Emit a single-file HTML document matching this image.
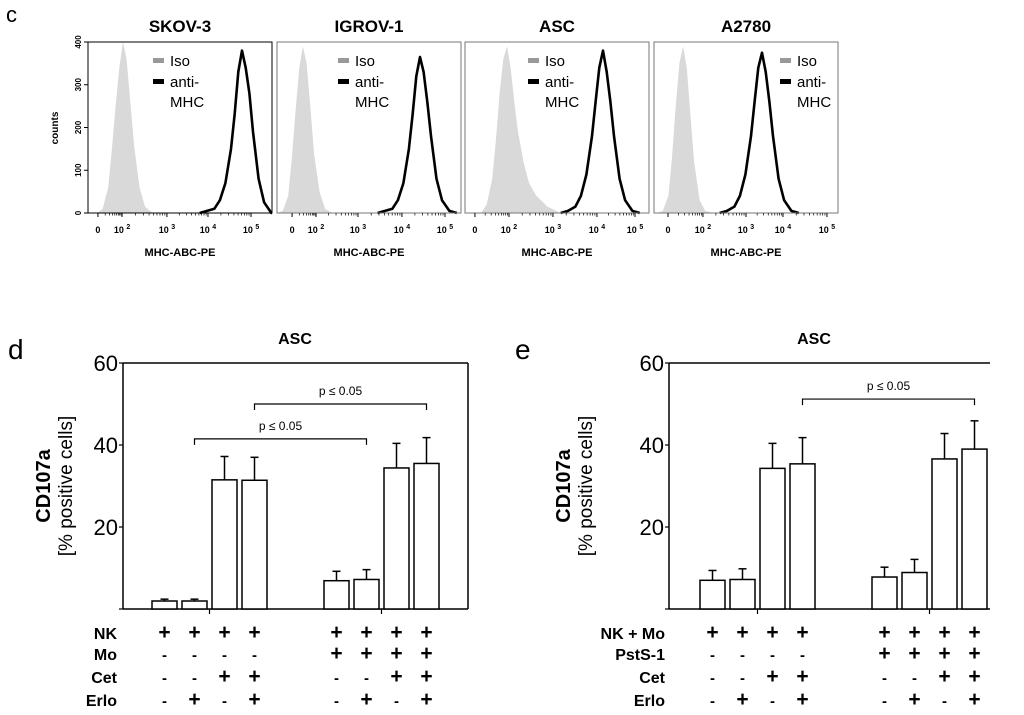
<!DOCTYPE html>
<html><head><meta charset="utf-8"><style>
html,body{margin:0;padding:0;background:#fff;}
svg{display:block;font-family:"Liberation Sans",Arial,sans-serif;}
</style></head><body>
<svg id="fig" width="1024" height="715" viewBox="0 0 1024 715">
<text x="6" y="22" font-size="22">c</text>
<text x="8" y="359" font-size="28">d</text>
<text x="515" y="359" font-size="28">e</text>
<g id="hist"></g>
<g id="chartD"></g>
<g id="chartE"></g>
</svg>
<script>
// ---------- Histogram data (panel c) ----------
const cellLines = ["SKOV-3","IGROV-1","ASC","A2780"];
const yTicksCounts = [0,100,200,300,400];
const isoOffsets = [-140,-110,-80,-60,-40,-20,0,20,40,60,90,120,160,220,290];
const isoPeak = [190,141,228,158];
const isoCounts1 = [0,10,60,150,250,340,400,360,260,160,60,15,0,0,0];
const isoCounts2 = [0,5,40,130,240,340,390,350,250,140,50,10,0,0,0];
const isoCounts3 = [0,20,80,170,280,360,390,340,260,190,120,70,40,15,0];
const isoCounts4 = [0,5,40,130,250,350,390,340,230,120,30,5,0,0,0];
const antiOffsets = [-230,-190,-150,-120,-90,-60,-40,-20,0,20,40,60,90,120,160,200];
const antiPeak = [837,777,750,587];
const antiCounts1 = [0,5,10,30,70,150,230,330,380,340,280,190,80,25,0,0];
const antiCounts2 = [0,5,10,30,70,150,230,320,365,330,260,180,80,30,5,0];
const antiCounts3 = [0,5,15,40,90,180,260,340,380,330,260,180,80,30,5,0];
const antiCounts4 = [0,5,15,40,90,180,260,340,375,330,260,180,80,30,5,0];
const decadeExp = ["","2","3","4","5"];
const decadeCh1 = [54,185,429,652,886];
const decadeCh2 = [82,212,440,679,913];
const decadeCh3 = [54,239,478,717,924];
const decadeCh4 = [76,266,500,701,940];

// ---------- Bar data (panels d, e) ----------
const yTicksBar = [20,40,60];
const dValues = [1.95,1.95,31.5,31.4,6.9,7.2,34.4,35.5];
const dErrTop = [2.4,2.4,37.2,37.0,9.2,9.6,40.4,41.8];
const eValues = [7.0,7.2,34.3,35.4,7.8,8.9,36.6,39.0];
const eErrTop = [9.4,9.8,40.4,41.8,10.2,12.1,42.8,45.9];
const dRowLabels = ["NK","Mo","Cet","Erlo"];
const dSigns = [["+","+","+","+","+","+","+","+"],["-","-","-","-","+","+","+","+"],["-","-","+","+","-","-","+","+"],["-","+","-","+","-","+","-","+"]];
const eRowLabels = ["NK + Mo","PstS-1","Cet","Erlo"];
const eSigns = [["+","+","+","+","+","+","+","+"],["-","-","-","-","+","+","+","+"],["-","-","+","+","-","-","+","+"],["-","+","-","+","-","+","-","+"]];
const dBrackets = [[1,5,41.5,"p ≤ 0.05"],[3,7,50,"p ≤ 0.05"]];
const eBrackets = [[3,7,51.2,"p ≤ 0.05"]];

const NS="http://www.w3.org/2000/svg";
function mk(tag,attrs,parent,txt){const e=document.createElementNS(NS,tag);for(const k in attrs)e.setAttribute(k,attrs[k]);if(txt!==undefined)e.textContent=txt;parent.appendChild(e);return e;}

// ---------- draw histograms ----------
const hist=document.getElementById('hist');
const panelLeft=[88,277,465,654], panelW=184, hTop=42, hBase=213;
const isoSets=[isoCounts1,isoCounts2,isoCounts3,isoCounts4];
const antiSets=[antiCounts1,antiCounts2,antiCounts3,antiCounts4];
const decSets=[decadeCh1,decadeCh2,decadeCh3,decadeCh4];
const legOff=[65,61,63,126];
function hy(c){return hBase-(c/400)*(hBase-hTop);}
for(let p=0;p<4;p++){
  const L=panelLeft[p];
  const hx=ch=>L+Math.max(0,Math.min(1000,ch))/1000*panelW;
  const g=mk('g',{},hist);
  
  
  const t=mk('text',{x:L+panelW/2,y:32,'font-size':17,'font-weight':'bold','text-anchor':'middle'},g,cellLines[p]);
  
  
  let d='M'+hx(isoPeak[p]+isoOffsets[0])+','+hBase;
  isoOffsets.forEach((o,i)=>{d+=' L'+hx(isoPeak[p]+o).toFixed(1)+','+hy(isoSets[p][i]).toFixed(1);});
  d+=' L'+hx(isoPeak[p]+isoOffsets[isoOffsets.length-1])+','+hBase+' Z';
  const iso=mk('path',{d:d,fill:'#d9d9d9',stroke:'none'},g);
  
  
  let d2='';
  antiOffsets.forEach((o,i)=>{d2+=(i?' L':'M')+hx(antiPeak[p]+o).toFixed(1)+','+hy(antiSets[p][i]).toFixed(1);});
  const an=mk('path',{d:d2,fill:'none',stroke:'#000','stroke-width':2.6,'stroke-linejoin':'round'},g);
  
  
  const box=mk('rect',{x:L,y:hTop,width:panelW,height:hBase-hTop,fill:'none',stroke:(p==0?'#000':'#777'),'stroke-width':1},g);
  
  
  decSets[p].forEach((c,i)=>{
    mk('line',{x1:hx(c),x2:hx(c),y1:hBase,y2:hBase+4,stroke:'#000','stroke-width':1},g);
    const tl=mk('text',{x:hx(c),y:233,'font-size':9,'font-weight':'bold','text-anchor':'middle'},g);
    
    
    if(i==0){tl.textContent='0';}
    else{mk('tspan',{},tl,'10 ');mk('tspan',{dy:-4,'font-size':7},tl,decadeExp[i]);}
    if(i>0){const prev=decSets[p][i-1];for(let k=1;k<9;k++){const mc=prev+(c-prev)*Math.log10(k+1);mk('line',{x1:hx(mc),x2:hx(mc),y1:hBase,y2:hBase+2.5,stroke:'#000','stroke-width':0.7},g);}}
  });
  const xt=mk('text',{x:L+panelW/2,y:256,'font-size':11,'font-weight':'bold','text-anchor':'middle'},g,'MHC-ABC-PE');
  
  
  const lx=L+legOff[p];
  mk('rect',{x:lx,y:58,width:11,height:5,fill:'#999'},g);
  mk('rect',{x:lx,y:79,width:11,height:5,fill:'#000'},g);
  const l1=mk('text',{x:lx+17,y:66,'font-size':15},g,'Iso');
  
  
  const l2=mk('text',{x:lx+17,y:87,'font-size':15},g,'anti-');
  
  
  mk('text',{x:lx+17,y:107,'font-size':15},g,'MHC');
  if(p==0){
    yTicksCounts.forEach(v=>{
      mk('line',{x1:L-4,x2:L,y1:hy(v),y2:hy(v),stroke:'#000'},g);
      const yl=mk('text',{x:0,y:0,'font-size':8,'font-weight':'bold','text-anchor':'middle',transform:`translate(${L-7},${hy(v)}) rotate(-90)`},g,String(v));
      
      
    });
    const yt=mk('text',{x:0,y:0,'font-size':10,'font-weight':'bold','text-anchor':'middle',transform:'translate(58,128) rotate(-90)'},g,'counts');
    
    
  }
}

// ---------- bar charts ----------
function barChart(gid,cfg,values,errTop,rowLabels,signs,brackets){
  const g=document.getElementById(gid);
  const y0=609,yTopPx=363;
  const ys=v=>y0-v/60*(y0-yTopPx);
  const bx=i=>cfg.first+i*30+(i>=4?cfg.gap:0);
  const t=mk('text',{x:cfg.titleX,y:344,'font-size':16,'font-weight':'bold','text-anchor':'middle'},g,'ASC');
  
  
  mk('line',{x1:cfg.left,x2:cfg.left,y1:yTopPx,y2:y0,stroke:'#000','stroke-width':1.5},g);
  mk('line',{x1:cfg.left,x2:cfg.right,y1:yTopPx,y2:yTopPx,stroke:'#000','stroke-width':1.5},g);
  mk('line',{x1:cfg.left,x2:cfg.right,y1:y0,y2:y0,stroke:'#000','stroke-width':1.5},g);
  if(cfg.rightBorder) mk('line',{x1:cfg.right,x2:cfg.right,y1:yTopPx,y2:y0,stroke:'#000','stroke-width':1.5},g);
  [bx(1)+27.5,bx(5)+27.5].forEach(x=>mk('line',{x1:x,x2:x,y1:y0,y2:y0+5,stroke:'#000','stroke-width':1.2},g));
  [0].concat(yTicksBar).forEach(v=>{
    mk('line',{x1:cfg.left-4,x2:cfg.left,y1:ys(v),y2:ys(v),stroke:'#000','stroke-width':1.2},g);
    if(v>0){const tl=mk('text',{x:cfg.left-5,y:ys(v)+8,'font-size':22,'text-anchor':'end'},g,String(v));
    
    }
  });
  const a=mk('text',{x:0,y:0,'font-size':20,'font-weight':'bold','text-anchor':'middle',transform:`translate(${cfg.ttlX},486) rotate(-90)`},g,'CD107a');
  
  
  const b=mk('text',{x:0,y:0,'font-size':19,'text-anchor':'middle',transform:`translate(${cfg.ttlX+22},486) rotate(-90)`},g,'[% positive cells]');
  
  
  values.forEach((v,i)=>{
    const x=bx(i);
    const cx=x+12.5;
    mk('line',{x1:cx,x2:cx,y1:ys(errTop[i]),y2:ys(v),stroke:'#000','stroke-width':1.5},g);
    mk('line',{x1:cx-4,x2:cx+4,y1:ys(errTop[i]),y2:ys(errTop[i]),stroke:'#000','stroke-width':1.5},g);
    const r=mk('rect',{x:x,y:ys(v),width:25,height:y0-ys(v),fill:'#fff',stroke:'#000','stroke-width':1.5},g);
    
    
  });
  brackets.forEach(br=>{
    const x1=bx(br[0])+12.5,x2=bx(br[1])+12.5,y=ys(br[2]);
    const p=mk('path',{d:`M${x1},${y+6} L${x1},${y} L${x2},${y} L${x2},${y+6}`,fill:'none',stroke:'#000','stroke-width':1.2},g);
    
    
    const tt=mk('text',{x:(x1+x2)/2,y:y-9,'font-size':12,'text-anchor':'middle'},g,br[3]);
    
    
  });
  const rowY=[639,660,683,706];
  rowLabels.forEach((lab,r)=>{
    const tl=mk('text',{x:cfg.labelX,y:rowY[r],'font-size':16,'font-weight':'bold','text-anchor':'end'},g,lab);
    
    
    signs[r].forEach((s,i)=>{
      const st=mk('text',{x:bx(i)+12.5,y:rowY[r],'font-size':s=='+'?21:15,'font-weight':'bold','text-anchor':'middle'},g,s);
      
      
    });
  });
}
barChart('chartD',{left:123,right:468,first:152,gap:52,titleX:295,ttlX:50,labelX:117,rightBorder:true},dValues,dErrTop,dRowLabels,dSigns,dBrackets);
barChart('chartE',{left:669,right:990,first:700,gap:52,titleX:814,ttlX:570,labelX:665,rightBorder:false},eValues,eErrTop,eRowLabels,eSigns,eBrackets);
</script>
</body></html>
